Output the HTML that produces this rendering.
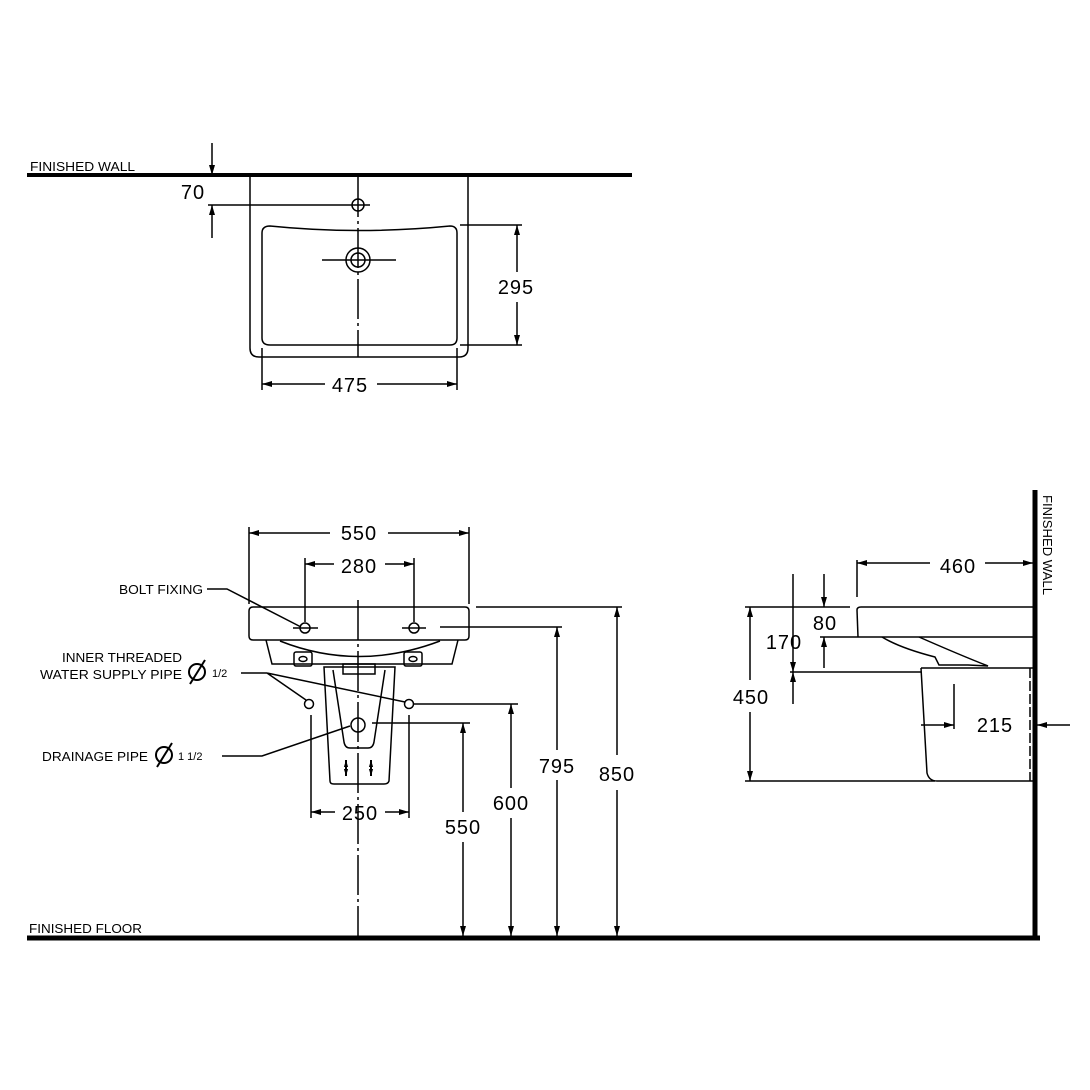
<!DOCTYPE html>
<html><head><style>body{margin:0;background:#fff}svg{display:block}</style></head><body>
<svg width="1090" height="1090" viewBox="0 0 1090 1090" xmlns="http://www.w3.org/2000/svg" font-family="Liberation Sans, sans-serif">
<defs>
<marker id="a" viewBox="0 0 10 6" refX="10" refY="3" markerWidth="12" markerHeight="6" markerUnits="userSpaceOnUse" orient="auto-start-reverse"><path d="M0,0 L10,3 L0,6 Z" fill="#000"/></marker>
<marker id="s" viewBox="0 0 10 6" refX="10" refY="3" markerWidth="7" markerHeight="5" markerUnits="userSpaceOnUse" orient="auto-start-reverse"><path d="M0,0 L10,3 L0,6 Z" fill="#000"/></marker>
</defs>
<rect width="1090" height="1090" fill="#fff"/>
<g stroke="#000" fill="none" stroke-width="1.5">
<!-- TOP VIEW -->
<line x1="27" y1="175" x2="632" y2="175" stroke-width="4"/>
<path d="M250,177 V348 Q250,357 259,357 H459 Q468,357 468,348 V177"/>
<path d="M262,233 Q262,226 270,226 Q358,235 450,226 Q457,226 457,233 V338 Q457,345 450,345 H270 Q262,345 262,338 Z"/>
<circle cx="358" cy="205" r="6"/>
<circle cx="358" cy="260" r="12"/><circle cx="358" cy="260" r="7"/>
<line x1="322" y1="260" x2="396" y2="260"/>
<line x1="358" y1="177" x2="358" y2="357" stroke-dasharray="40 4 3 4"/>
<line x1="208" y1="205" x2="370" y2="205"/>
<line x1="212" y1="143" x2="212" y2="175" marker-end="url(#a)"/>
<line x1="212" y1="238" x2="212" y2="205" marker-end="url(#a)"/>
<line x1="460" y1="225" x2="522" y2="225"/><line x1="460" y1="345" x2="522" y2="345"/>
<line x1="517" y1="225" x2="517" y2="272" marker-start="url(#a)"/><line x1="517" y1="302" x2="517" y2="345" marker-end="url(#a)"/>
<line x1="262" y1="348" x2="262" y2="390"/><line x1="457" y1="348" x2="457" y2="390"/>
<line x1="262" y1="384" x2="325" y2="384" marker-start="url(#a)"/><line x1="377" y1="384" x2="457" y2="384" marker-end="url(#a)"/>

<!-- FRONT VIEW -->
<line x1="27" y1="938" x2="1040" y2="938" stroke-width="5"/>
<line x1="1035" y1="490" x2="1035" y2="940" stroke-width="5"/>
<path d="M249,611 Q249,607 253,607 H465 Q469,607 469,611 V636 Q469,640 465,640 H253 Q249,640 249,636 Z"/>
<path d="M266,640 L272,664 H452 L458,640"/>
<path d="M280,641 Q358,672 440,641"/>
<rect x="294" y="652" width="18" height="14" rx="2"/><rect x="404" y="652" width="18" height="14" rx="2"/>
<ellipse cx="303" cy="659" rx="4" ry="2.5"/><ellipse cx="413" cy="659" rx="4" ry="2.5"/>
<rect x="343" y="664" width="32" height="10" />
<path d="M324,667 H395 L389,781 Q388,784 384,784 H334 Q330,784 330,781 Z"/>
<path d="M333,670 L344,742 Q345,748 350,748 H368 Q373,748 374,742 L385,670"/>
<circle cx="305" cy="628" r="5"/><circle cx="414" cy="628" r="5"/>
<line x1="293" y1="628" x2="318" y2="628"/><line x1="402" y1="628" x2="426" y2="628"/>
<line x1="358" y1="600" x2="358" y2="936" stroke-dasharray="40 4 3 4"/>
<circle cx="358" cy="725" r="7"/>
<circle cx="309" cy="704" r="4.5"/><circle cx="409" cy="704" r="4.5"/>
<line x1="413" y1="704" x2="518" y2="704"/>
<line x1="372" y1="723" x2="470" y2="723"/>
<line x1="440" y1="627" x2="562" y2="627"/>
<line x1="476" y1="607" x2="622" y2="607"/>
<path d="M207,589 H227 L301,627"/>
<path d="M241,673 H267 L306,700 M267,673 L405,702"/>
<path d="M222,756 H262 L350,726"/>
<line x1="249" y1="527" x2="249" y2="604"/><line x1="469" y1="527" x2="469" y2="604"/>
<line x1="249" y1="533" x2="330" y2="533" marker-start="url(#a)"/><line x1="388" y1="533" x2="469" y2="533" marker-end="url(#a)"/>
<line x1="305" y1="558" x2="305" y2="622"/><line x1="414" y1="558" x2="414" y2="622"/>
<line x1="305" y1="564" x2="334" y2="564" marker-start="url(#a)"/><line x1="385" y1="564" x2="414" y2="564" marker-end="url(#a)"/>
<line x1="311" y1="715" x2="311" y2="818"/><line x1="409" y1="715" x2="409" y2="818"/>
<line x1="311" y1="812" x2="335" y2="812" marker-start="url(#a)"/><line x1="385" y1="812" x2="409" y2="812" marker-end="url(#a)"/>
<line x1="617" y1="607" x2="617" y2="755" marker-start="url(#a)"/><line x1="617" y1="790" x2="617" y2="936" marker-end="url(#a)"/>
<line x1="557" y1="627" x2="557" y2="750" marker-start="url(#a)"/><line x1="557" y1="780" x2="557" y2="936" marker-end="url(#a)"/>
<line x1="511" y1="704" x2="511" y2="788" marker-start="url(#a)"/><line x1="511" y1="818" x2="511" y2="936" marker-end="url(#a)"/>
<line x1="463" y1="723" x2="463" y2="812" marker-start="url(#a)"/><line x1="463" y1="842" x2="463" y2="936" marker-end="url(#a)"/>
<g stroke-width="2"><line x1="346" y1="760" x2="346" y2="776" marker-start="url(#s)" marker-end="url(#s)"/><line x1="371" y1="760" x2="371" y2="776" marker-start="url(#s)" marker-end="url(#s)"/></g>

<!-- SIDE VIEW -->
<path d="M857,610 Q857,607 861,607 H1033"/>
<line x1="857" y1="610" x2="858" y2="637"/>
<line x1="820" y1="637" x2="1033" y2="637"/>
<path d="M882,637 Q900,648 935,657 L939,665 H968 L988,666 Q960,655 919,637"/>
<line x1="790" y1="672" x2="921" y2="672"/>
<path d="M921,668 H1033 M921,668 L927,773 Q929,781 937,781 H1033"/>
<line x1="1030" y1="668" x2="1030" y2="781" stroke-dasharray="10 3"/>
<line x1="745" y1="607" x2="850" y2="607"/>
<line x1="745" y1="781" x2="935" y2="781"/>
<line x1="857" y1="560" x2="857" y2="597"/>
<line x1="857" y1="563" x2="930" y2="563" marker-start="url(#a)"/><line x1="985" y1="563" x2="1033" y2="563" marker-end="url(#a)"/>
<line x1="824" y1="574" x2="824" y2="607" marker-end="url(#a)"/>
<line x1="824" y1="668" x2="824" y2="637" marker-end="url(#a)"/>
<line x1="793" y1="574" x2="793" y2="672" marker-end="url(#a)"/>
<line x1="793" y1="704" x2="793" y2="672" marker-end="url(#a)"/>
<line x1="750" y1="607" x2="750" y2="680" marker-start="url(#a)"/><line x1="750" y1="712" x2="750" y2="781" marker-end="url(#a)"/>
<line x1="954" y1="684" x2="954" y2="729"/>
<line x1="921" y1="725" x2="954" y2="725" marker-end="url(#a)"/>
<line x1="1070" y1="725" x2="1037" y2="725" marker-end="url(#a)"/>
</g>
<g fill="#000" font-size="20" text-anchor="middle" letter-spacing="1">
<text x="193" y="199">70</text>
<text x="516" y="294">295</text>
<text x="350" y="392">475</text>
<text x="359" y="540">550</text>
<text x="359" y="573">280</text>
<text x="360" y="820">250</text>
<text x="463" y="834">550</text>
<text x="511" y="810">600</text>
<text x="557" y="773">795</text>
<text x="617" y="781">850</text>
<text x="958" y="573">460</text>
<text x="825" y="630">80</text>
<text x="784" y="649">170</text>
<text x="751" y="704">450</text>
<text x="995" y="732">215</text>
</g>
<g fill="#000" font-size="12.5">
<text x="30" y="171" textLength="105" lengthAdjust="spacingAndGlyphs">FINISHED WALL</text>
<text x="29" y="933" textLength="113" lengthAdjust="spacingAndGlyphs">FINISHED FLOOR</text>
<text x="119" y="594" textLength="84" lengthAdjust="spacingAndGlyphs">BOLT FIXING</text>
<text x="62" y="662" textLength="120" lengthAdjust="spacingAndGlyphs">INNER THREADED</text>
<text x="40" y="679" textLength="142" lengthAdjust="spacingAndGlyphs">WATER SUPPLY PIPE</text>
<text x="42" y="761" textLength="106" lengthAdjust="spacingAndGlyphs">DRAINAGE PIPE</text>
<text x="212" y="677" font-size="11">1/2</text>
<text x="178" y="760" font-size="11">1 1/2</text>
<text x="1043" y="495" transform="rotate(90 1043 495)" textLength="100" lengthAdjust="spacingAndGlyphs">FINISHED WALL</text>
</g>
<g fill="none" stroke="#000" stroke-width="2">
<circle cx="197" cy="672" r="8"/><line x1="190" y1="684" x2="205" y2="660"/>
<circle cx="164" cy="755" r="8"/><line x1="157" y1="767" x2="172" y2="743"/>
</g>
</svg>
</body></html>
